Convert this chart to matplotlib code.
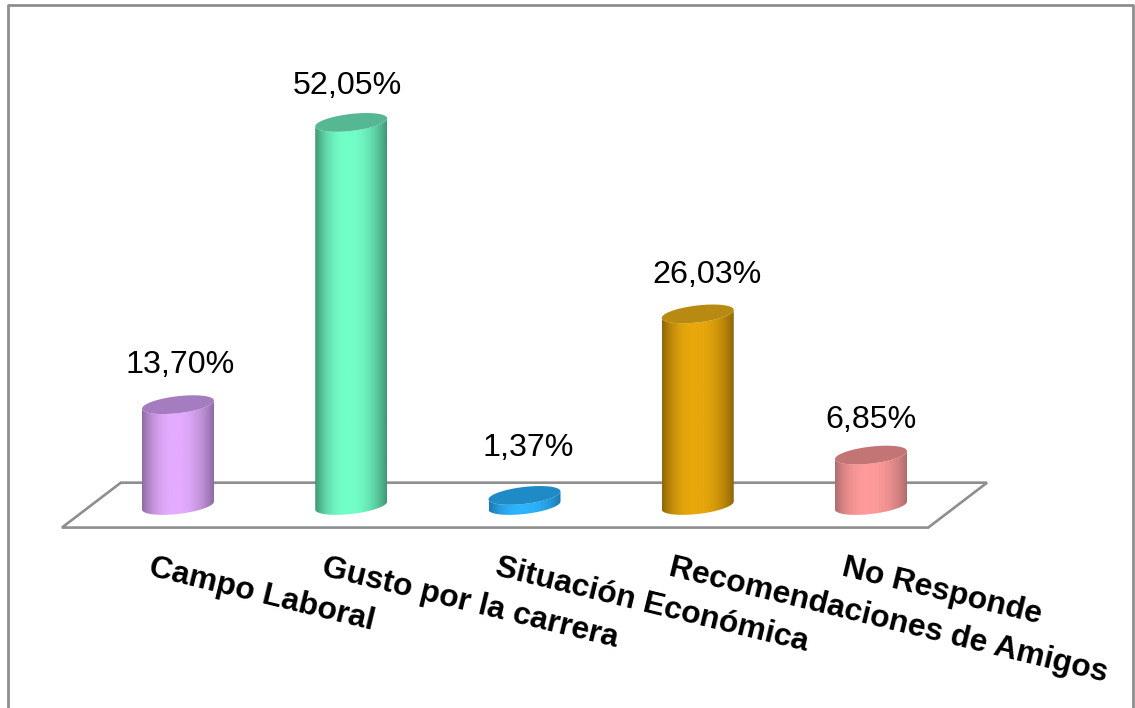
import matplotlib
matplotlib.use('Agg')
import matplotlib.pyplot as plt
from matplotlib.colors import LinearSegmentedColormap
from matplotlib.patches import PathPatch, Polygon
from matplotlib.path import Path
import numpy as np

# the values
categories = ['Campo Laboral', 'Gusto por la carrera', 'Situación Económica',
              'Recomendaciones de Amigos', 'No Responde']
values = [13.70, 52.05, 1.37, 26.03, 6.85]
value_labels = ['13,70%', '52,05%', '1,37%', '26,03%', '6,85%']

# edge, middle and top cap color of each cylinder
edge_colors = ['#8d6ba3', '#3f9674', '#1c78ad', '#8f6606', '#b06c6c']
mid_colors = ['#e4abff', '#73ffc8', '#2db4ff', '#e8a80c', '#ff9a9a']
cap_colors = ['#a67cc0', '#55b893', '#1f8bc6', '#b88a12', '#c37474']

# small nudges for the value labels, in pixels (x, y above the cap)
label_dx = [2, -4, 4, 9, 0]
label_dy = [40, 36, 47, 39, 35]

WIDTH = 1135
HEIGHT = 708
X_UNIT = 173.25  # pixels between two bars
Y_UNIT = 7.36  # pixels per percent
X_ZERO = 178  # pixel of the first bar
Y_ZERO = 505.5  # pixel of the value 0

RADIUS = 36 / X_UNIT
TILT = 4 / Y_UNIT
SQUASH = 8.5 / Y_UNIT


def ellipse_points(x, y, start, stop):
	t = np.linspace(start, stop, 80)
	return np.column_stack((x + RADIUS * np.cos(t), y + TILT * np.cos(t) + SQUASH * np.sin(t)))


# draws one cylinder with a horizontal shading
def draw_cylinder(ax, x, value, edge, mid, cap):
	cmap = LinearSegmentedColormap.from_list('shade', [edge, mid], N=256)
	# brightest a bit left of the middle, falling off towards both sides
	u = np.linspace(-1, 1, 120)
	peak = -0.1
	dist = np.where(u < peak, (peak - u) / (1 + peak), (u - peak) / (1 - peak))
	shade = 1 - dist ** 2.3
	# the front half of the bottom ellipse and the front half of the top one
	lower = ellipse_points(x, 0, np.pi, 2 * np.pi)
	upper = ellipse_points(x, value, 2 * np.pi, np.pi)
	body = np.vstack((lower, upper, lower[:1]))
	patch = PathPatch(Path(body), facecolor='none', edgecolor='none', transform=ax.transData)
	ax.add_patch(patch)
	im = ax.imshow(shade.reshape(1, -1), cmap=cmap, vmin=0, vmax=1, aspect='auto',
		extent=(x - RADIUS, x + RADIUS, -SQUASH * 2, value + SQUASH * 2),
		zorder=3, interpolation='bilinear')
	im.set_clip_path(patch)
	top = ellipse_points(x, value, 0, 2 * np.pi)
	ax.add_patch(Polygon(top, closed=True, facecolor=cap, edgecolor='none', zorder=4))


def main():
	plt.rcParams['font.family'] = ['Liberation Sans', 'DejaVu Sans']
	fig = plt.figure(figsize=(WIDTH / 100, HEIGHT / 100), dpi=100, facecolor='white')
	ax = fig.add_axes([0, 0, 1, 1])
	ax.axis('off')

	# the outer frame, it runs off the bottom of the picture
	ax.plot([8 / WIDTH, 8 / WIDTH, 1133 / WIDTH, 1133 / WIDTH], [0, 1 - 5 / HEIGHT, 1 - 5 / HEIGHT, 0],
		color='#8e8e8e', lw=2, transform=ax.transAxes, clip_on=False)

	# the floor of the 3d chart
	floor_x = [-0.67, 4.33, 4.67, -0.33]
	floor_y = [-3.0, -3.0, 3.1, 3.1]
	ax.add_patch(Polygon(np.column_stack((floor_x, floor_y)), closed=True, facecolor='white',
		edgecolor='#8e8e8e', lw=1.9, zorder=1))

	for i in range(len(values)):
		draw_cylinder(ax, i, values[i], edge_colors[i], mid_colors[i], cap_colors[i])
		ax.annotate(value_labels[i], (i, values[i]), xytext=(label_dx[i] * 0.72, label_dy[i] * 0.72),
			textcoords='offset points', ha='center', va='center', fontsize=23.2, color='black', zorder=5)
		ax.text(i - 0.145, -6.45, categories[i], rotation=-13.7, rotation_mode='anchor',
			ha='left', va='top', fontsize=22.9, fontweight='bold', color='black', zorder=5)

	ax.set_xlim(-X_ZERO / X_UNIT, (WIDTH - X_ZERO) / X_UNIT)
	ax.set_ylim((Y_ZERO - HEIGHT) / Y_UNIT, Y_ZERO / Y_UNIT)
	fig.savefig('out.png', dpi=100, facecolor='white')


if __name__ == '__main__':
	main()
